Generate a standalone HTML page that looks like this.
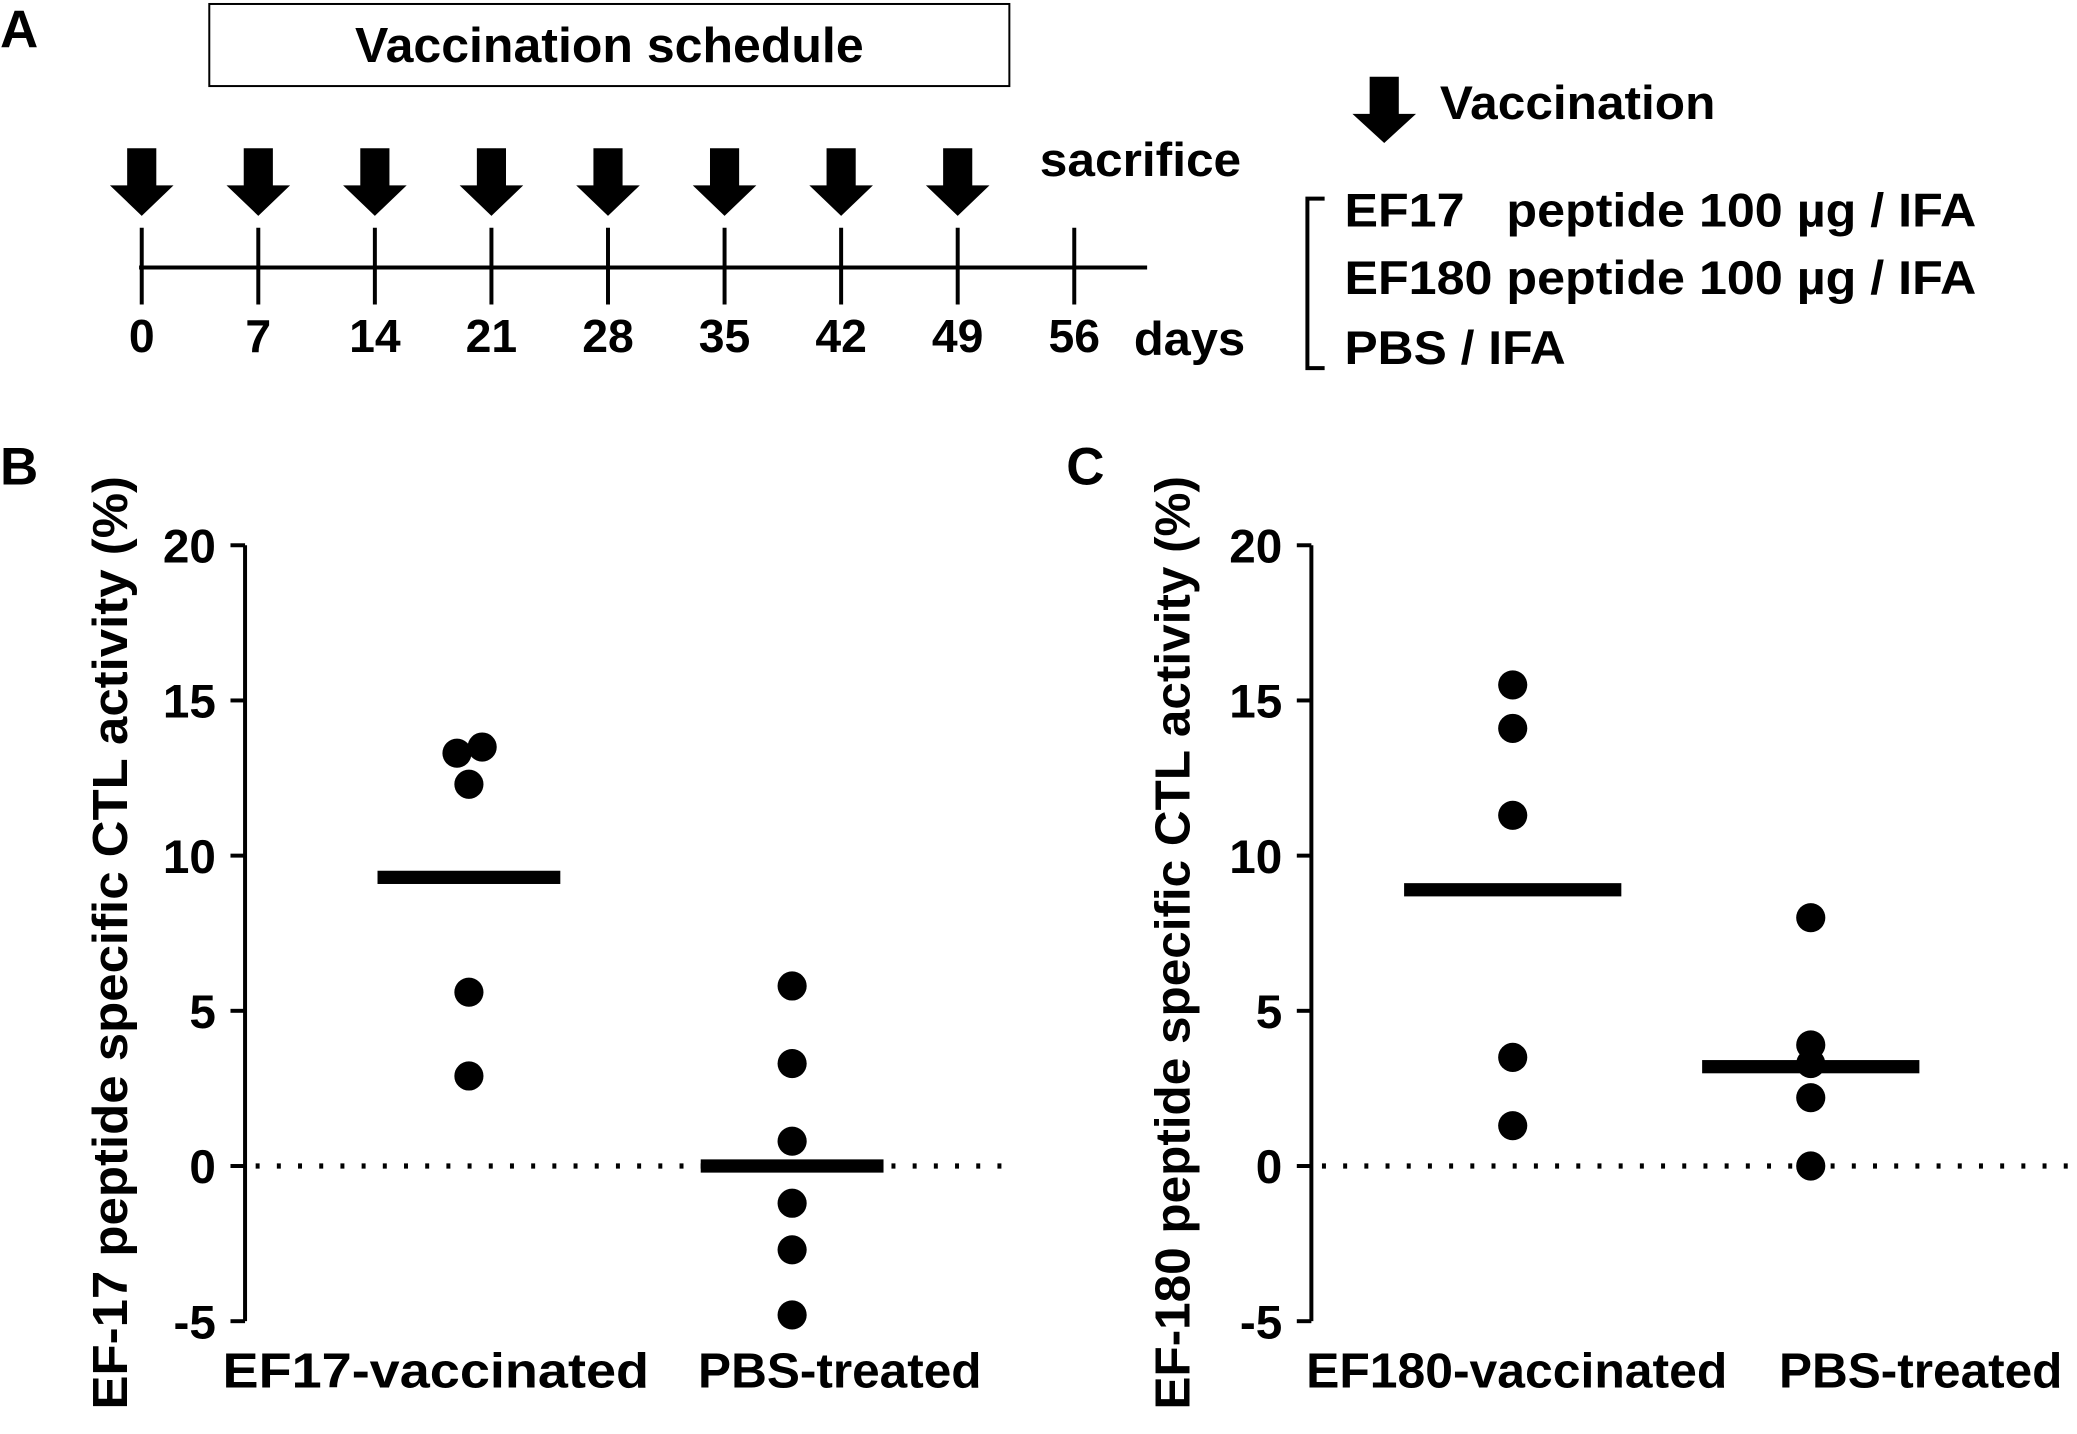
<!DOCTYPE html>
<html><head><meta charset="utf-8"><style>
html,body{margin:0;padding:0;background:#fff;overflow:hidden;}
svg{display:block;}
text{font-family:"Liberation Sans",Arial,sans-serif;font-weight:bold;fill:#000;}
</style></head><body>
<svg id="fig" width="2077" height="1434" viewBox="0 0 1568 1083" preserveAspectRatio="none">
<g id="panelA">
<text x="0" y="36" font-size="40">A</text>
<rect x="158" y="3" width="604" height="62" fill="none" stroke="#000" stroke-width="1.5"/>
<text x="460" y="47" font-size="37" text-anchor="middle" textLength="384" lengthAdjust="spacingAndGlyphs">Vaccination schedule</text>
<line x1="105" y1="202" x2="866" y2="202" stroke="#000" stroke-width="3"/>
<text x="785" y="133" font-size="36" textLength="152" lengthAdjust="spacingAndGlyphs">sacrifice</text>
<text x="856" y="268" font-size="36" textLength="84" lengthAdjust="spacingAndGlyphs">days</text>
<path d="M1034,58 h22 v28 h13 l-24,22 l-24,-22 h13 z" fill="#000"/>
<text x="1087" y="90" font-size="36" textLength="208" lengthAdjust="spacingAndGlyphs">Vaccination</text>
<path d="M1000,150 h-13 v128 h13" fill="none" stroke="#000" stroke-width="3"/>
<text x="1015" y="171" font-size="36" textLength="477" lengthAdjust="spacingAndGlyphs">EF17&#160;&#160;&#160;peptide 100 µg / IFA</text>
<text x="1015" y="222" font-size="36" textLength="477" lengthAdjust="spacingAndGlyphs">EF180 peptide 100 µg / IFA</text>
<text x="1015" y="275" font-size="36" textLength="167" lengthAdjust="spacingAndGlyphs">PBS / IFA</text>
</g>
<g id="panelB"></g>
<g id="panelC"></g>
</svg>
<script>
const days=[0,7,14,21,28,35,42,49,56];
const vaccDays=[0,7,14,21,28,35,42,49];
const yTicks=[20,15,10,5,0,-5];
const bCategories=["EF17-vaccinated","PBS-treated"];
const bVacc=[13.3,13.5,12.3,5.6,2.9];
const bVaccX=[-9,10,0,0,0];
const bPBS=[5.8,3.3,0.8,-1.2,-2.7,-4.8];
const bMeans=[9.3,0.0];
const cCategories=["EF180-vaccinated","PBS-treated"];
const cVacc=[15.5,14.1,11.3,3.5,1.3];
const cPBS=[8.0,3.9,3.3,2.2,0.0];
const cMeans=[8.9,3.2];
const NS="http://www.w3.org/2000/svg";
function mk(parent,tag,attrs){const e=document.createElementNS(NS,tag);for(const k in attrs)e.setAttribute(k,attrs[k]);parent.appendChild(e);return e;}
const A=document.getElementById('panelA');
const dx=d=>107+d*(811-107)/56;
days.forEach(d=>{
 const t=mk(A,'line',{x1:dx(d),x2:dx(d),y1:172,y2:230,stroke:'#000','stroke-width':3});
 
 
 const l=mk(A,'text',{x:dx(d),y:266,'font-size':35,'text-anchor':'middle'});l.textContent=d;
 
 
});
vaccDays.forEach(d=>{
 const x=dx(d);
 const p=mk(A,'path',{d:`M${x-11},112 h22 v28 h13 l-24,23 l-24,-23 h13 z`,fill:'#000'});
 
 
});
function panel(g,axX,label,labelX,title,titleX,cats,catX,catW,vacc,vaccOff,pbs,means,x1,x2,mw,dotEnd){
 const y=v=>880.6-v*23.44;
 const L=mk(g,'text',{x:labelX,y:366,'font-size':40});L.textContent=label;
 
 
 const ax=mk(g,'line',{x1:axX,x2:axX,y1:y(20),y2:y(-5),stroke:'#000','stroke-width':3});
 
 
 yTicks.forEach(v=>{
  const t=mk(g,'line',{x1:axX-11,x2:axX,y1:y(v),y2:y(v),stroke:'#000','stroke-width':3});
  
  
  const tl=mk(g,'text',{x:axX-22,y:y(v)+13,'font-size':36,'text-anchor':'end'});tl.textContent=v;
  
  
 });
 const z=mk(g,'line',{x1:axX+8,x2:dotEnd,y1:y(0),y2:y(0),stroke:'#000','stroke-width':4,'stroke-dasharray':'3 13'});
 
 
 const yt=mk(g,'text',{x:0,y:0,'font-size':37,'text-anchor':'middle',textLength:705,lengthAdjust:'spacingAndGlyphs',transform:`translate(${titleX},712) rotate(-90)`});yt.textContent=title;
 
 
 [x1,x2].forEach((cx,i)=>{
  const c=mk(g,'text',{x:catX[i],y:1048,'font-size':37,'text-anchor':'middle',textLength:catW[i],lengthAdjust:'spacingAndGlyphs'});c.textContent=cats[i];
  
  
  const m=mk(g,'rect',{x:cx-mw/2,y:y(means[i])-5,width:mw,height:10,fill:'#000'});
  
  
 });
 vacc.forEach((v,i)=>{
  const d=mk(g,'circle',{cx:x1+(vaccOff?vaccOff[i]:0),cy:y(v),r:11,fill:'#000'});
  
  
 });
 pbs.forEach(v=>{
  const d=mk(g,'circle',{cx:x2,cy:y(v),r:11,fill:'#000'});
  
  
 });
}
panel(document.getElementById('panelB'),185,'B',0,'EF-17 peptide specific CTL activity (%)',96,bCategories,[329,634],[322,214],bVacc,bVaccX,bPBS,bMeans,354,598,138,765);
panel(document.getElementById('panelC'),990,'C',805,'EF-180 peptide specific CTL activity (%)',898,cCategories,[1145,1450],[318,214],cVacc,null,cPBS,cMeans,1142,1367,164,1568);
</script>
</body></html>
